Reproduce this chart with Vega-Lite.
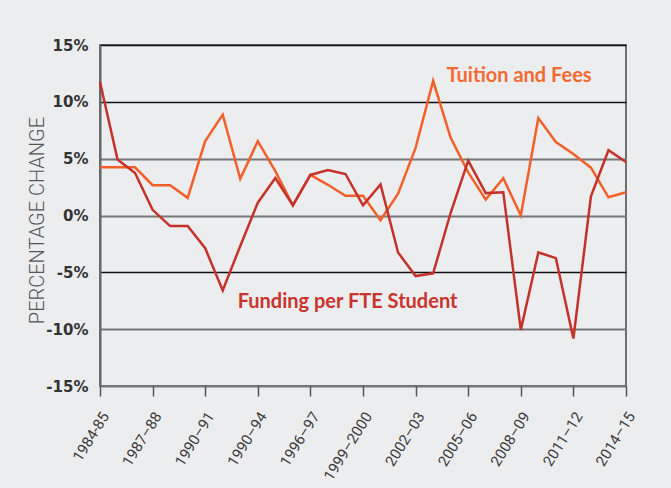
{
  "$schema": "https://vega.github.io/schema/vega-lite/v6.json",
  "width": 526,
  "height": 341,
  "autosize": {"type": "none"},
  "padding": {"left": 100, "top": 45, "right": 45, "bottom": 102},
  "background": "#ecedef",
  "config": {"view": {"stroke": "#444", "strokeWidth": 1.5}},
  "data": {"values": [
    {"year": 1984, "tuition": 4.24, "funding": 11.75},
    {"year": 1985, "tuition": 4.24, "funding": 4.92},
    {"year": 1986, "tuition": 4.24, "funding": 3.74},
    {"year": 1987, "tuition": 2.67, "funding": 0.5},
    {"year": 1988, "tuition": 2.67, "funding": -0.93},
    {"year": 1989, "tuition": 1.55, "funding": -0.93},
    {"year": 1990, "tuition": 6.54, "funding": -2.88},
    {"year": 1991, "tuition": 8.87, "funding": -6.59},
    {"year": 1992, "tuition": 3.23, "funding": -2.68},
    {"year": 1993, "tuition": 6.54, "funding": 1.13},
    {"year": 1994, "tuition": 3.91, "funding": 3.3},
    {"year": 1995, "tuition": 0.9, "funding": 0.9},
    {"year": 1996, "tuition": 3.57, "funding": 3.57},
    {"year": 1997, "tuition": 2.7, "funding": 4.0},
    {"year": 1998, "tuition": 1.74, "funding": 3.65},
    {"year": 1999, "tuition": 1.74, "funding": 0.9},
    {"year": 2000, "tuition": -0.42, "funding": 2.73},
    {"year": 2001, "tuition": 1.91, "funding": -3.25},
    {"year": 2002, "tuition": 5.95, "funding": -5.33},
    {"year": 2003, "tuition": 11.84, "funding": -5.09},
    {"year": 2004, "tuition": 6.84, "funding": 0.24},
    {"year": 2005, "tuition": 3.8, "funding": 4.83},
    {"year": 2006, "tuition": 1.4, "funding": 1.97},
    {"year": 2007, "tuition": 3.28, "funding": 2.05},
    {"year": 2008, "tuition": 0.0, "funding": -10.06},
    {"year": 2009, "tuition": 8.57, "funding": -3.25},
    {"year": 2010, "tuition": 6.46, "funding": -3.75},
    {"year": 2011, "tuition": 5.41, "funding": -10.82},
    {"year": 2012, "tuition": 4.21, "funding": 1.68},
    {"year": 2013, "tuition": 1.6, "funding": 5.74},
    {"year": 2014, "tuition": 2.05, "funding": 4.71}
  ]},
  "layer": [
    {
      "mark": {"type": "line", "color": "#f2602a", "strokeWidth": 2.5},
      "encoding": {
        "x": {
          "field": "year",
          "type": "quantitative",
          "scale": {"domain": [1984, 2014], "nice": false, "zero": false},
          "axis": {
            "values": [1984, 1987, 1990, 1993, 1996, 1999, 2002, 2005, 2008, 2011, 2014],
            "labelExpr": "['1984-85','1987–88','1990–91','1990–94','1996–97','1999–2000','2002–03','2005–06','2008–09','2011–12','2014–15'][round((datum.value-1984)/3)]",
            "labelAngle": -58,
            "labelAlign": "right",
            "labelBaseline": "middle",
            "labelPadding": 17,
            "labelOffset": 5,
            "labelFont": "Roboto",
            "labelFontWeight": 400,
            "labelFontSize": 15,
            "labelColor": "#3a3a3a",
            "labelOverlap": false,
            "tickSize": 10,
            "tickColor": "#555",
            "tickWidth": 1.5,
            "domain": false,
            "grid": false,
            "title": null
          }
        },
        "y": {
          "field": "tuition",
          "type": "quantitative",
          "scale": {"domain": [-15, 15], "nice": false},
          "axis": {
            "values": [-15, -10, -5, 0, 5, 10, 15],
            "labelExpr": "datum.value + '%'",
            "labelFont": "DejaVu Sans",
            "labelFontWeight": "bold",
            "labelFontSize": 15,
            "labelColor": "#333",
            "labelPadding": 12,
            "ticks": false,
            "domain": true,
            "domainColor": "#666",
            "domainWidth": 2,
            "grid": true,
            "gridColor": {"condition": {"test": "datum.value == 10 || datum.value == -5 || datum.value == 15", "value": "#111"}, "value": "#777"},
            "gridWidth": {"condition": {"test": "datum.value == 10 || datum.value == -5 || datum.value == 15", "value": 1.3}, "value": 2},
            "title": "PERCENTAGE CHANGE",
            "titleFont": "Roboto",
            "titleFontWeight": 300,
            "titleFontSize": 20,
            "titleColor": "#555",
            "titleAngle": -90,
            "titleAlign": "center",
            "titleBaseline": "bottom",
            "titleX": -53,
            "titleY": 175
          }
        }
      }
    },
    {
      "mark": {"type": "line", "color": "#c4322a", "strokeWidth": 2.5},
      "encoding": {
        "x": {"field": "year", "type": "quantitative"},
        "y": {"field": "funding", "type": "quantitative"}
      }
    },
    {
      "data": {"values": [{}]},
      "mark": {"type": "text", "text": "Tuition and Fees", "font": "Lato", "fontWeight": "bold", "fontSize": 20, "color": "#f26a30", "align": "center", "baseline": "alphabetic"},
      "encoding": {
        "x": {"datum": 2007.9, "type": "quantitative"},
        "y": {"datum": 11.75, "type": "quantitative"}
      }
    },
    {
      "data": {"values": [{}]},
      "mark": {"type": "text", "text": "Funding per FTE Student", "font": "Lato", "fontWeight": "bold", "fontSize": 20, "color": "#c9342c", "align": "center", "baseline": "alphabetic"},
      "encoding": {
        "x": {"datum": 1998.12, "type": "quantitative"},
        "y": {"datum": -8.1, "type": "quantitative"}
      }
    }
  ]
}
